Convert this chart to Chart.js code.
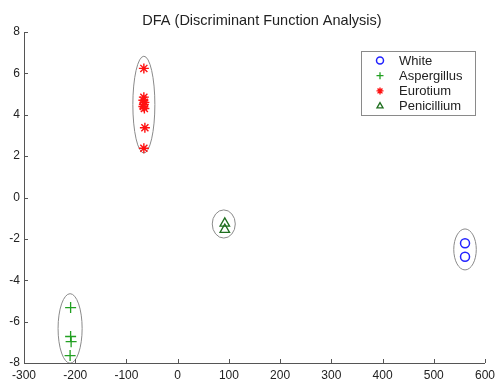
<!DOCTYPE html>
<html><head><meta charset="utf-8">
<script src="https://cdn.jsdelivr.net/npm/chart.js@4.4.0/dist/chart.umd.min.js"></script>
<style>html,body{margin:0;padding:0;background:#fff;}#wrap{width:496px;height:381px;}</style>
</head><body><div id="wrap"><canvas id="c" width="496" height="381"></canvas></div>
<script>
const chartTitle = 'DFA (Discriminant Function Analysis)';
const seriesNames = ['White', 'Aspergillus', 'Eurotium', 'Penicillium'];
const whiteX = [561, 561];
const whiteY = [-2.21, -2.86];
const aspergillusX = [-209, -209, -208, -210];
const aspergillusY = [-5.32, -6.72, -6.97, -7.64];
const eurotiumX = [-66, -66, -67, -65, -66, -67, -65, -64, -66];
const eurotiumY = [6.24, 4.85, 4.7, 4.6, 4.5, 4.4, 4.3, 3.37, 2.38];
const penicilliumX = [92, 92];
const penicilliumY = [-1.25, -1.55];
// ellipses: [centerX, centerY, radiusX, radiusY] in data units
const ellipseCenterX = [561, -210, -66, 90];
const ellipseCenterY = [-2.51, -6.33, 4.49, -1.28];
const ellipseRadX = [22, 23.5, 21.5, 22.5];
const ellipseRadY = [0.99, 1.68, 2.34, 0.68];
const xTicks = [-300, -200, -100, 0, 100, 200, 300, 400, 500, 600];
const yTicks = [-8, -6, -4, -2, 0, 2, 4, 6, 8];

const pts = (xs, ys) => xs.map((x, i) => ({x, y: ys[i]}));
const FONT = 'Liberation Sans, Arial, sans-serif';

const styles = [
  {pointStyle: 'circle', radius: 4.5, color: '#2222ff', bw: 1.5},
  {pointStyle: 'cross', radius: 5.5, color: '#22a022', bw: 1.3},
  {pointStyle: 'star', radius: 5, color: '#ff1111', bw: 1.4},
  {pointStyle: 'triangle', radius: 5.5, color: '#1e6e1e', bw: 1.3}
];
const dataList = [pts(whiteX, whiteY), pts(aspergillusX, aspergillusY), pts(eurotiumX, eurotiumY), pts(penicilliumX, penicilliumY)];

const datasets = seriesNames.map((n, i) => ({
  label: n, data: dataList[i], pointStyle: styles[i].pointStyle, pointRadius: styles[i].radius,
  borderColor: styles[i].color, backgroundColor: 'rgba(0,0,0,0)', borderWidth: styles[i].bw,
  pointBorderWidth: styles[i].bw, showLine: false
}));

const decor = {
  id: 'decor',
  beforeDatasetsDraw(chart) {
    const ctx = chart.ctx, xs = chart.scales.x, ys = chart.scales.y;
    ctx.save();
    ctx.strokeStyle = '#8a8a8a'; ctx.lineWidth = 1;
    for (let i = 0; i < ellipseCenterX.length; i++) {
      const cx = xs.getPixelForValue(ellipseCenterX[i]);
      const cy = ys.getPixelForValue(ellipseCenterY[i]);
      const rx = Math.abs(xs.getPixelForValue(ellipseCenterX[i] + ellipseRadX[i]) - cx);
      const ry = Math.abs(ys.getPixelForValue(ellipseCenterY[i] + ellipseRadY[i]) - cy);
      ctx.beginPath(); ctx.ellipse(cx, cy, rx, ry, 0, 0, Math.PI * 2); ctx.stroke();
    }
    ctx.restore();
  },
  afterDraw(chart) {
    const ctx = chart.ctx, xs = chart.scales.x, ys = chart.scales.y, a = chart.chartArea;
    ctx.save();
    // axes lines
    ctx.strokeStyle = '#555'; ctx.lineWidth = 1;
    ctx.beginPath();
    ctx.moveTo(a.left + 0.5, a.top); ctx.lineTo(a.left + 0.5, a.bottom + 0.5); ctx.lineTo(a.right, a.bottom + 0.5);
    ctx.stroke();
    // inward ticks
    ctx.beginPath();
    xTicks.forEach(v => { const px = Math.round(xs.getPixelForValue(v)) + 0.5; ctx.moveTo(px, a.bottom); ctx.lineTo(px, a.bottom - 4); });
    yTicks.forEach(v => { const py = Math.round(ys.getPixelForValue(v)) + 0.5; ctx.moveTo(a.left, py); ctx.lineTo(a.left + 4, py); });
    ctx.stroke();
    // title
    ctx.fillStyle = '#222'; ctx.font = '14.5px ' + FONT; ctx.textAlign = 'center'; ctx.textBaseline = 'middle';
    ctx.fillText(chartTitle, 262, 21);
    // legend
    const lx = 361, ly = 51, lw = 114, lh = 64;
    ctx.fillStyle = '#fff'; ctx.fillRect(lx, ly, lw, lh);
    ctx.strokeStyle = '#8a8a8a'; ctx.lineWidth = 1; ctx.strokeRect(lx + 0.5, ly + 0.5, lw, lh);
    ctx.font = '13px ' + FONT; ctx.textAlign = 'left';
    seriesNames.forEach((n, i) => {
      const y = ly + 9.5 + i * 15.2;
      ctx.strokeStyle = styles[i].color; ctx.fillStyle = 'rgba(0,0,0,0)'; ctx.lineWidth = styles[i].bw;
      Chart.helpers.drawPoint(ctx, {pointStyle: styles[i].pointStyle, radius: 3.5, borderWidth: styles[i].bw}, 380, y);
      ctx.fillStyle = '#222';
      ctx.fillText(n, 399, y + 0.5);
    });
    ctx.restore();
  }
};

new Chart(document.getElementById('c'), {
  type: 'scatter',
  data: {datasets},
  plugins: [decor],
  options: {
    responsive: false, animation: false, devicePixelRatio: 1,
    layout: {padding: {top: 32, right: 11, left: 0, bottom: 0}},
    plugins: {legend: {display: false}, title: {display: false}, tooltip: {enabled: false}},
    scales: {
      x: {
        type: 'linear', min: -300, max: 600,
        afterBuildTicks: s => { s.ticks = xTicks.map(v => ({value: v})); },
        afterFit: s => { s.height = 18; s.paddingLeft = 0; s.paddingRight = 0; },
        grid: {display: false, drawTicks: false}, border: {display: false},
        ticks: {color: '#222', font: {size: 12, family: FONT}, padding: 5, maxRotation: 0, autoSkip: false}
      },
      y: {
        type: 'linear', min: -8, max: 8,
        afterBuildTicks: s => { s.ticks = yTicks.map(v => ({value: v})); },
        afterFit: s => { s.width = 24; s.paddingTop = 0; s.paddingBottom = 0; },
        grid: {display: false, drawTicks: false}, border: {display: false},
        ticks: {color: '#222', font: {size: 12, family: FONT}, padding: 4, autoSkip: false}
      }
    }
  }
});
</script></body></html>
